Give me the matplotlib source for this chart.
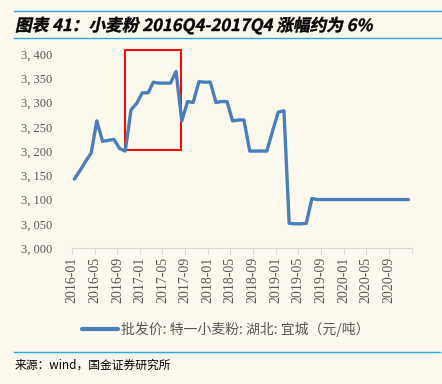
import matplotlib
matplotlib.use("Agg")
import matplotlib.pyplot as plt
import matplotlib.patches as patches
import matplotlib.dates as mdates
from matplotlib.textpath import TextPath
from matplotlib.font_manager import FontProperties
from matplotlib.transforms import Affine2D
import pandas as pd

plt.rcParams['font.family'] = ['Noto Sans CJK SC', 'DejaVu Sans']

# --- Data (monthly, 2016-01 .. 2020-12) ---
dates = pd.date_range("2016-01-01", periods=60, freq="MS") + pd.Timedelta(days=12)
price = [3142, 3160, 3178, 3196, 3262, 3220, 3222, 3224, 3205, 3200,
         3285, 3298, 3320, 3320, 3342, 3340, 3340, 3340, 3364, 3262,
         3302, 3300, 3343, 3342, 3342, 3300, 3302, 3302, 3262, 3264,
         3264, 3200, 3200, 3200, 3200, 3240, 3280, 3283, 3051, 3050,
         3050, 3051, 3102, 3100, 3100, 3100, 3100, 3100, 3100, 3100,
         3100, 3100, 3100, 3100, 3100, 3100, 3100, 3100, 3100, 3100]
series_name = "批发价: 特一小麦粉: 湖北: 宜城（元/吨）"
title = "图表 41：小麦粉 2016Q4-2017Q4 涨幅约为 6%"
source = "来源：wind，国金证券研究所"
y_ticks = [3000, 3050, 3100, 3150, 3200, 3250, 3300, 3350, 3400]
# highlight box (2016Q4 - 2017Q4)
box_x = ("2016-10-12", "2017-08-06")
box_y = (3202, 3408)

BG = "#FDF9EF"
LINE_BLUE = "#4A7EBB"
RULE_BLUE = "#29A9E1"
GREY = "#595959"

fig = plt.figure(figsize=(4.42, 3.84), dpi=100, facecolor=BG)
ax = fig.add_axes([0.163, 0.354, 0.769, 0.518], facecolor=BG)

ax.plot(dates, price, color=LINE_BLUE, lw=2.4, solid_joinstyle="round",
        solid_capstyle="round", label=series_name, clip_on=False)

x0 = mdates.date2num(pd.Timestamp(box_x[0]))
x1 = mdates.date2num(pd.Timestamp(box_x[1]))
rect = patches.Rectangle((x0, box_y[0]), x1 - x0, box_y[1] - box_y[0],
                         fill=False, edgecolor="red", lw=1.4, clip_on=False)
ax.add_patch(rect)

ax.set_xlim(pd.Timestamp("2016-01-01"), pd.Timestamp("2021-01-01"))
ax.set_ylim(3000, 3410)
ax.xaxis.set_major_locator(mdates.MonthLocator(bymonth=[1, 5, 9]))
ax.xaxis.set_major_formatter(mdates.DateFormatter("%Y-%m"))
ax.set_yticks(y_ticks)
ax.set_yticklabels([f"{v:,}".replace(",", ", ") for v in y_ticks])

for s in ["top", "right", "left"]:
    ax.spines[s].set_visible(False)
ax.spines["bottom"].set_color("#D9D9D9")
ax.tick_params(axis="y", length=0, pad=14, colors=GREY, labelsize=9)
ax.tick_params(axis="x", length=4, color="#D9D9D9", colors=GREY, labelsize=10,
               rotation=90, pad=2)
for lab in ax.get_xticklabels() + ax.get_yticklabels():
    lab.set_family("Liberation Serif")
labels = ax.get_xticklabels()
labels[-1].set_visible(False)

leg = fig.legend(loc="center left", bbox_to_anchor=(0.158, 0.143), frameon=False,
                 handlelength=2.6, fontsize=10, labelcolor=GREY, handletextpad=0.15)
leg.get_lines()[0].set_linewidth(3)

# title drawn as slanted path (bold italic look)
fp = FontProperties(family="Noto Sans CJK SC", weight="bold")
tp = TextPath((0, 0), title, size=12, prop=fp)
tr = Affine2D().skew_deg(12, 0).scale(100 / 72).translate(15, 384 - 31)
fig.add_artist(patches.PathPatch(tp, transform=tr, color="black", lw=0.3))

fig.add_artist(plt.Line2D([0.032, 1.0], [0.971, 0.971], color=RULE_BLUE, lw=1))
fig.add_artist(plt.Line2D([0.032, 1.0], [0.902, 0.902], color=RULE_BLUE, lw=1))
fig.add_artist(plt.Line2D([0.032, 0.996], [0.083, 0.083], color=RULE_BLUE, lw=1))
fig.text(0.034, 0.049, source, fontsize=8.5, ha="left", va="center")

fig.savefig("out.png", dpi=100, facecolor=BG)
